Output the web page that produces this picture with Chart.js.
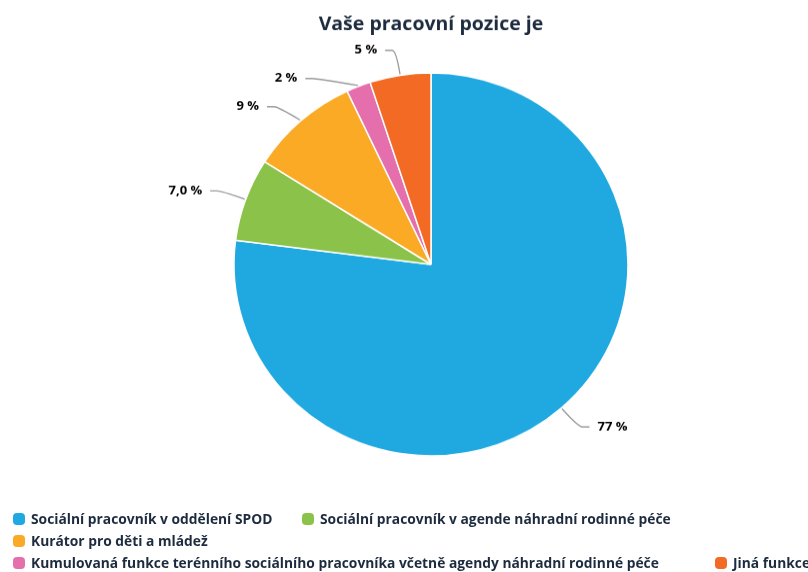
<!DOCTYPE html>
<html>
<head>
<meta charset="utf-8">
<script src="https://cdn.jsdelivr.net/npm/chart.js@4/dist/chart.umd.min.js"></script>
<style>
  html, body { margin: 0; padding: 0; background: #fff; }
  body { width: 808px; height: 572px; overflow: hidden; position: relative; }
  #wrap { position: absolute; left: 0; top: 0; width: 808px; height: 510px; transform: scaleY(0.972); transform-origin: 0 0; }
  #legend { position: absolute; left: 0; top: 0; width: 808px; height: 572px; pointer-events: none; }
  .li { position: absolute; white-space: nowrap; font: bold 13.8px "Open Sans", sans-serif; color: #1d2b3e; line-height: 18px; height: 18px; }
  .li i { display: inline-block; width: 12px; height: 12px; border-radius: 4px; vertical-align: -1px; margin-right: 6px; }
</style>
</head>
<body>
<div id="wrap"><canvas id="c" width="808" height="510"></canvas></div>
<div id="legend"></div>
<script>
const titleText = "Vaše pracovní pozice je";
const categories = [
  "Sociální pracovník v oddělení SPOD",
  "Sociální pracovník v agende náhradní rodinné péče",
  "Kurátor pro děti a mládež",
  "Kumulovaná funkce terénního sociálního pracovníka včetně agendy náhradní rodinné péče",
  "Jiná funkce"
];
const values = [77, 7.0, 9, 2, 5];
const valueLabels = ["77 %", "7,0 %", "9 %", "2 %", "5 %"];
const colors = ["#20a9e1", "#8bc34a", "#fbaa26", "#e56fad", "#f26a24"];

// legend item placement (layout only)
const legendPos = [[13, 510], [302, 510], [13, 532], [13, 554], [715, 554]];

const legend = document.getElementById('legend');
categories.forEach((name, i) => {
  const d = document.createElement('div');
  d.className = 'li';
  d.style.left = legendPos[i][0] + 'px';
  d.style.top = legendPos[i][1] + 'px';
  const m = document.createElement('i');
  m.style.background = colors[i];
  d.appendChild(m);
  d.appendChild(document.createTextNode(name));
  legend.appendChild(d);
});

const outsideLabels = {
  id: 'outsideLabels',
  afterDatasetsDraw(chart) {
    const ctx = chart.ctx;
    const meta = chart.getDatasetMeta(0);
    const items = meta.data.map((arc, i) => {
      const p = arc.getProps(['x', 'y', 'startAngle', 'endAngle', 'outerRadius'], true);
      const a = (p.startAngle + p.endAngle) / 2;
      const R = p.outerRadius + 26;
      return { i, a, cx: p.x, cy: p.y, r: p.outerRadius, R,
               side: Math.cos(a) >= 0 ? 1 : -1,
               y: p.y + R * Math.sin(a) };
    });
    [1, -1].forEach(side => {
      const group = items.filter(o => o.side === side).sort((a, b) => a.y - b.y);
      let prev = -Infinity;
      group.forEach(o => { o.y = Math.max(o.y, prev + 29); prev = o.y; });
    });
    ctx.save();
    ctx.font = 'bold 13px "Open Sans", sans-serif';
    ctx.textBaseline = 'middle';
    items.forEach(o => {
      const dy = o.y - o.cy;
      const dx = Math.sqrt(Math.max(o.R * o.R - dy * dy, 0));
      const ax = o.cx + o.side * dx;
      const ex = o.cx + (o.r + 1) * Math.cos(o.a);
      const ey = o.cy + (o.r + 1) * Math.sin(o.a);
      ctx.strokeStyle = '#9a9a9a';
      ctx.lineWidth = 1.3;
      ctx.beginPath();
      ctx.moveTo(ex, ey);
      ctx.quadraticCurveTo(ax, o.y, ax + o.side * 4, o.y);
      ctx.lineTo(ax + o.side * 11, o.y);
      ctx.stroke();
      ctx.fillStyle = '#000000';
      ctx.textAlign = o.side > 0 ? 'left' : 'right';
      ctx.fillText(valueLabels[o.i], ax + o.side * 19, o.y);
    });
    ctx.restore();
  }
};

new Chart(document.getElementById('c'), {
  type: 'pie',
  data: {
    labels: categories,
    datasets: [{
      data: values,
      backgroundColor: colors,
      borderColor: '#ffffff',
      borderWidth: 1.5,
      radius: 197
    }]
  },
  options: {
    responsive: false,
    animation: false,
    layout: { padding: { left: 54, right: 0, top: 0, bottom: 3.4 } },
    plugins: {
      legend: { display: false },
      tooltip: { enabled: false },
      title: {
        display: true,
        text: titleText,
        fullSize: false,
        color: '#1d2b3e',
        font: { family: '"Open Sans", sans-serif', size: 19.5, weight: 'bold' },
        padding: { top: 14, bottom: 0 }
      }
    }
  },
  plugins: [outsideLabels]
});
</script>
</body>
</html>
